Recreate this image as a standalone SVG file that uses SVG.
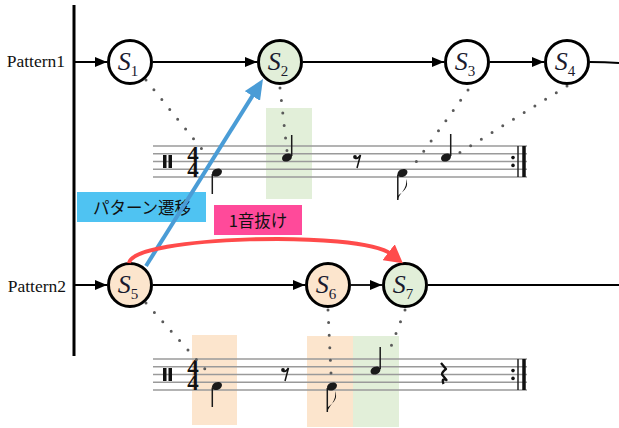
<svg xmlns="http://www.w3.org/2000/svg" width="619" height="428" viewBox="0 0 619 428">
<style>
.conn{stroke:#000;stroke-width:1.8;fill:none}
.node{stroke:#000;stroke-width:3}
.lbl{font-family:"Liberation Serif",serif;font-size:26px;font-style:italic;fill:#1a1a2e;text-anchor:middle}
.sub{font-size:15px;font-style:normal}
.pat{font-family:"Liberation Serif",serif;font-size:17.5px;fill:#111;text-anchor:end}
.staff{stroke:#9a9a9a;stroke-width:1.5}
.dots{stroke:#5a5a5a;stroke-width:3;stroke-linecap:round;stroke-dasharray:0 12.6;fill:none}
.head{fill:#1a1a1a}
.stem{stroke:#1a1a1a;stroke-width:1.5}
.ts{font-family:"Liberation Serif",serif;font-weight:bold;font-size:23px;fill:#111;text-anchor:middle}
.jp{font-family:"Noto Sans CJK JP",sans-serif;font-size:16.5px;fill:#111;text-anchor:middle}
</style>
<defs>
<marker id="ah" markerUnits="userSpaceOnUse" markerWidth="12" markerHeight="10" refX="12" refY="5" orient="auto"><path d="M0,0 L12,5 L0,10 z" fill="#000"/></marker>
<marker id="ahBlue" markerUnits="userSpaceOnUse" markerWidth="20" markerHeight="18" refX="4" refY="9" orient="auto"><path d="M0,0 L20,9 L0,18 z" fill="#4a9cd6"/></marker>
<marker id="ahRed" markerUnits="userSpaceOnUse" markerWidth="18" markerHeight="20" refX="3" refY="10" orient="auto"><path d="M0,0 L18,10 L0,20 z" fill="#ff4b4b"/></marker>
<g id="staff">
<line class="staff" x1="153" y1="0" x2="527" y2="0"/>
<line class="staff" x1="153" y1="7.75" x2="527" y2="7.75"/>
<line class="staff" x1="153" y1="15.5" x2="527" y2="15.5"/>
<line class="staff" x1="153" y1="23.25" x2="527" y2="23.25"/>
<line class="staff" x1="153" y1="31" x2="527" y2="31"/>
<rect x="163" y="9" width="3.5" height="13" fill="#111"/>
<rect x="168.5" y="9" width="3.5" height="13" fill="#111"/>
<text class="ts" x="193" y="15.5">4</text>
<text class="ts" x="193" y="31">4</text>
<line x1="518" y1="0" x2="518" y2="31" stroke="#222" stroke-width="1.5"/>
<line x1="524" y1="0" x2="524" y2="31" stroke="#111" stroke-width="3.5"/>
<circle cx="513" cy="11.6" r="1.8" fill="#111"/>
<circle cx="513" cy="19.4" r="1.8" fill="#111"/>
</g>
</defs>

<!-- highlight boxes -->
<rect x="266" y="108" width="46" height="91" fill="#e2efd9"/>
<rect x="192" y="335" width="45" height="90" fill="#fce5cd"/>
<rect x="307" y="336" width="46" height="91" fill="#fce5cd"/>
<rect x="353" y="336" width="46" height="91" fill="#e2efd9"/>

<!-- staves -->
<g id="staff1">
<use href="#staff" x="0" y="146"/>
<ellipse class="head" cx="217" cy="172.5" rx="5.2" ry="3.8" transform="rotate(-25 217 172.5)"/>
<line class="stem" x1="212.3" y1="174" x2="212.3" y2="194"/>
<ellipse class="head" cx="287" cy="157.5" rx="5.2" ry="3.8" transform="rotate(-25 287 157.5)"/>
<line class="stem" x1="291.7" y1="156" x2="291.7" y2="135"/>
<circle cx="355" cy="157" r="1.9" fill="#111"/>
<path d="M355,158.5 Q358,159 360.5,155 L357,168" stroke="#111" stroke-width="1.5" fill="none"/>
<ellipse class="head" cx="402.5" cy="173" rx="5.2" ry="3.8" transform="rotate(-25 402.5 173)"/>
<line class="stem" x1="397.8" y1="174.5" x2="397.8" y2="200"/>
<path d="M397.8,200 C399,193 408,189 406,179 C410,188 402,192 397.8,196 z" fill="#111"/>
<ellipse class="head" cx="446" cy="157.5" rx="5.2" ry="3.8" transform="rotate(-25 446 157.5)"/>
<line class="stem" x1="450.7" y1="156" x2="450.7" y2="134"/>
</g>
<g id="staff2">
<use href="#staff" x="0" y="359"/>
<ellipse class="head" cx="217" cy="386" rx="5.2" ry="3.8" transform="rotate(-25 217 386)"/>
<line class="stem" x1="212.3" y1="387.5" x2="212.3" y2="407"/>
<circle cx="283" cy="370" r="1.9" fill="#111"/>
<path d="M283,371.5 Q286,372 288.5,368 L285,381" stroke="#111" stroke-width="1.5" fill="none"/>
<ellipse class="head" cx="332" cy="386.5" rx="5.2" ry="3.8" transform="rotate(-25 332 386.5)"/>
<line class="stem" x1="327.3" y1="388" x2="327.3" y2="412"/>
<path d="M327.3,412 C329,405 337,401 335,391 C339,400 331,404 327.3,408 z" fill="#111"/>
<ellipse class="head" cx="375.5" cy="370.5" rx="5.2" ry="3.8" transform="rotate(-25 375.5 370.5)"/>
<line class="stem" x1="380.2" y1="369" x2="380.2" y2="347"/>
<path d="M441,363 L446,369 Q442,372 442,374.5 L446.5,380 Q441,377.5 443.5,384" stroke="#111" stroke-width="2.3" fill="none" stroke-linejoin="round"/>
</g>

<!-- axis and pattern labels -->
<line x1="74" y1="5" x2="74" y2="356" stroke="#000" stroke-width="3"/>
<text class="pat" x="65" y="67">Pattern1</text>
<text class="pat" x="66" y="292">Pattern2</text>

<g id="connectors">
<path class="dots" d="M146,80 L209,158"/>
<path class="dots" d="M280,88 L287,151"/>
<path class="dots" d="M468,90 L416,162"/>
<path class="dots" d="M567,86 L459,153"/>
<path class="dots" d="M146,303 L213,378"/>
<path class="dots" d="M328,310 L331,373"/>
<path class="dots" d="M405,310 L387,357"/>
<line class="conn" x1="74" y1="62" x2="107" y2="62" marker-end="url(#ah)"/>
<line class="conn" x1="153" y1="62" x2="257" y2="62" marker-end="url(#ah)"/>
<line class="conn" x1="303" y1="62" x2="444" y2="62" marker-end="url(#ah)"/>
<line class="conn" x1="490" y1="62" x2="544" y2="62" marker-end="url(#ah)"/>
<path class="conn" d="M590,62 Q605,62 619,63"/>
<line class="conn" x1="74" y1="285" x2="107" y2="285" marker-end="url(#ah)"/>
<line class="conn" x1="153" y1="285" x2="305" y2="285" marker-end="url(#ah)"/>
<line class="conn" x1="351" y1="285" x2="382" y2="285" marker-end="url(#ah)"/>
<line class="conn" x1="428" y1="285" x2="619" y2="285"/>
</g>

<g id="n1"><circle class="node" cx="130" cy="62" r="21.5" fill="#fff"/><text class="lbl" x="128" y="70">S<tspan class="sub" dy="6">1</tspan></text></g>
<g id="n2"><circle class="node" cx="280" cy="62" r="21.5" fill="#e2efd9"/><text class="lbl" x="278" y="70">S<tspan class="sub" dy="6">2</tspan></text></g>
<g id="n3"><circle class="node" cx="467" cy="62" r="21.5" fill="#fff"/><text class="lbl" x="465" y="70">S<tspan class="sub" dy="6">3</tspan></text></g>
<g id="n4"><circle class="node" cx="567" cy="62" r="21.5" fill="#fff"/><text class="lbl" x="565" y="70">S<tspan class="sub" dy="6">4</tspan></text></g>
<g id="n5"><circle class="node" cx="130" cy="285" r="21.5" fill="#fce5cd"/><text class="lbl" x="128" y="293">S<tspan class="sub" dy="6">5</tspan></text></g>
<g id="n6"><circle class="node" cx="328" cy="285" r="21.5" fill="#fce5cd"/><text class="lbl" x="326" y="293">S<tspan class="sub" dy="6">6</tspan></text></g>
<g id="n7"><circle class="node" cx="405" cy="285" r="21.5" fill="#e2efd9"/><text class="lbl" x="403" y="293">S<tspan class="sub" dy="6">7</tspan></text></g>

<g id="label-transition"><rect x="77" y="192" width="129" height="30" fill="#4fc3f2"/><text class="jp" x="142" y="214">パターン遷移</text></g>
<g id="label-skip"><rect x="214" y="205" width="88" height="30" fill="#ff4a9a"/><text class="jp" x="258" y="227">1音抜け</text></g>

<g id="special-connectors">
<line x1="146" y1="266" x2="254.5" y2="92.6" stroke="#4a9cd6" stroke-width="4" marker-end="url(#ahBlue)"/>
<path d="M129,263 C133,236 360,230 391,254" stroke="#ff4b4b" stroke-width="4" fill="none" marker-end="url(#ahRed)"/>
</g>
</svg>
